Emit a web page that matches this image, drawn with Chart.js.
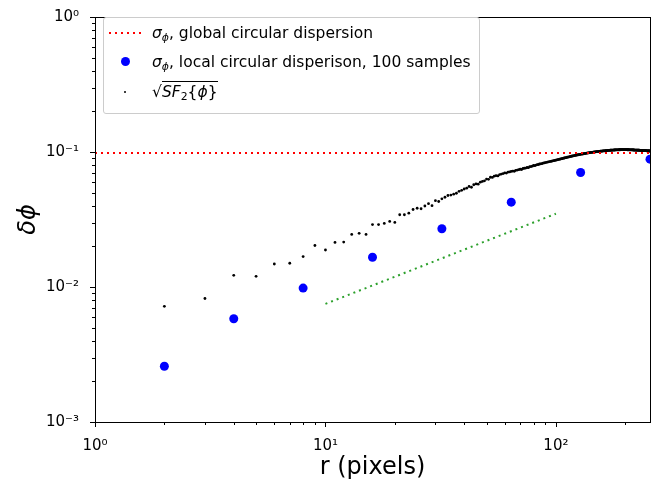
<!DOCTYPE html>
<html>
<head>
<meta charset="utf-8">
<script src="https://cdn.jsdelivr.net/npm/chart.js@4/dist/chart.umd.min.js"></script>
<style>
    body { margin: 0; background: #fff; }
    #wrap { position: relative; width: 670px; height: 485px; }
    #legend {
        position: absolute; left: 103px; top: 17px; width: 375px; height: 95px;
        border: 1px solid #cccccc; border-radius: 3px; background: rgba(255,255,255,0.8);
        font-family: 'DejaVu Sans', sans-serif; font-size: 15.5px; color: #000;
    }
    #legend .row { position: absolute; left: 0; height: 18px; line-height: 18px; white-space: nowrap; }
    #legend .label { position: absolute; left: 48px; top: 0; }
    #legend sub { font-size: 70%; vertical-align: -3px; line-height: 0; }
    #legend .rad { border-top: 1px solid #000; padding-top: 1px; }
    .dotted { position: absolute; left: 5px; top: 8px; width: 32px; height: 2px;
        background: repeating-linear-gradient(to right, #ff0000 0 2px, transparent 2px 6px); }
    .bigdot { position: absolute; left: 17px; top: 4px; width: 9px; height: 9px; border-radius: 50%; background: #0000ff; }
    .smalldot { position: absolute; left: 20px; top: 8px; width: 2px; height: 2px; border-radius: 50%; background: #000; }
</style>
</head>
<body>
<div id="wrap">
    <canvas id="chart" width="670" height="485"></canvas>
    <div id="legend">
        <div class="row" style="top:6px"><span class="dotted"></span>
            <span class="label"><i>σ</i><sub><i>ϕ</i></sub>, global circular dispersion</span></div>
        <div class="row" style="top:35px"><span class="bigdot"></span>
            <span class="label"><i>σ</i><sub><i>ϕ</i></sub>, local circular disperison, 100 samples</span></div>
        <div class="row" style="top:65px"><span class="smalldot"></span>
            <span class="label">√<span class="rad"><i>SF</i><sub>2</sub>{<i>ϕ</i>}</span></span></div>
    </div>
</div>
<script>
// global circular dispersion (horizontal line)
const globalDisp = 0.0985;

// local circular dispersion, 100 samples
const localR = [2, 4, 8, 16, 32, 64, 128, 256];
const localDisp = [0.00259, 0.00582, 0.00982, 0.0166, 0.0270, 0.0425, 0.0705, 0.0885];

// sqrt of the structure function, one value per lag r = 2 .. 256
const sfValues = [
    0.00719, 0.00822, 0.0122, 0.0120, 0.0148, 0.0150, 0.0168, 0.0203, 0.0188, 0.0214,
    0.0215, 0.0245, 0.0250, 0.0245, 0.0290, 0.0290, 0.0296, 0.0306, 0.0301, 0.0343,
    0.0343, 0.0352,
    0.0375, 0.0383, 0.0380, 0.0398, 0.0414, 0.0400, 0.0436, 0.0430, 0.0450, 0.0462,
    0.0476, 0.0480, 0.0487, 0.0495, 0.0511, 0.0520, 0.0532,
    0.0540, 0.0555, 0.0548, 0.0572, 0.0580, 0.0578, 0.0598, 0.0605, 0.0612, 0.0630,
    0.0628, 0.0650, 0.0648, 0.0662, 0.0668, 0.0665, 0.0680, 0.0686, 0.0692, 0.0700,
    0.0698, 0.0710, 0.0712, 0.0718, 0.0722, 0.0720, 0.0732, 0.0735, 0.0740, 0.0745,
    0.0742, 0.0755, 0.0758, 0.0760, 0.0768, 0.0766, 0.0778, 0.0780, 0.0785, 0.0795,
    0.0792, 0.0800, 0.0806, 0.0808, 0.0815, 0.0818, 0.0820, 0.0828, 0.0830, 0.0835,
    0.0838, 0.0842, 0.0845, 0.0850, 0.0852, 0.0855, 0.0860, 0.0862, 0.0866, 0.0870,
    0.0874, 0.0877, 0.0882, 0.0884, 0.0888, 0.0892, 0.0895, 0.0900, 0.0903, 0.0908,
    0.0910, 0.0914, 0.0917, 0.0920, 0.0924, 0.0927, 0.0930, 0.0934, 0.0937, 0.0940,
    0.0943, 0.0946, 0.0948, 0.0951, 0.0954, 0.0956, 0.0959, 0.0961, 0.0964, 0.0966,
    0.0968, 0.0971, 0.0973, 0.0975, 0.0977, 0.0980, 0.0982, 0.0984, 0.0986, 0.0988,
    0.0990, 0.0992, 0.0994, 0.0995, 0.0997, 0.0999, 0.1000, 0.1002, 0.1003, 0.1005,
    0.1006, 0.1008, 0.1009, 0.1010, 0.1012, 0.1013, 0.1014, 0.1015, 0.1016, 0.1018,
    0.1019, 0.1020, 0.1021, 0.1022, 0.1023, 0.1024, 0.1025, 0.1026, 0.1027, 0.1028,
    0.1029, 0.1030, 0.1030, 0.1031, 0.1032, 0.1033, 0.1033, 0.1034, 0.1035, 0.1035,
    0.1036, 0.1036, 0.1037, 0.1037, 0.1038, 0.1038, 0.1038, 0.1039, 0.1039, 0.1039,
    0.1040, 0.1040, 0.1040, 0.1040, 0.1040, 0.1040, 0.1040, 0.1040, 0.1040, 0.1040,
    0.1040, 0.1040, 0.1040, 0.1039, 0.1039, 0.1039, 0.1039, 0.1038, 0.1038, 0.1038,
    0.1037, 0.1037, 0.1037, 0.1036, 0.1036, 0.1036, 0.1035, 0.1035, 0.1034, 0.1034,
    0.1034, 0.1033, 0.1033, 0.1032, 0.1032, 0.1031, 0.1031, 0.1031, 0.1030, 0.1030,
    0.1029, 0.1029, 0.1028, 0.1028, 0.1027, 0.1027, 0.1026, 0.1026, 0.1025, 0.1025,
    0.1024, 0.1024, 0.1023, 0.1023, 0.1022, 0.1022, 0.1021, 0.1021, 0.1020, 0.1020,
    0.1019, 0.1019, 0.1018, 0.1018, 0.1017, 0.1017
];
const sfR = sfValues.map((v, i) => i + 2);

// reference slope line (green dotted)
const slopeR = [10, 100];
const slopeVals = [0.0075, 0.0349];

// axes
const xRange = [1, 256];
const yRange = [0.001, 1];
const xMajor = [1, 10, 100];
const xMajorLabels = ['10⁰', '10¹', '10²'];
const xMinor = [2, 3, 4, 5, 6, 7, 8, 9, 20, 30, 40, 50, 60, 70, 80, 90, 200];
const yMajor = [0.001, 0.01, 0.1, 1];
const yMajorLabels = ['10⁻³', '10⁻²', '10⁻¹', '10⁰'];
const yMinor = [0.002, 0.003, 0.004, 0.005, 0.006, 0.007, 0.008, 0.009,
    0.02, 0.03, 0.04, 0.05, 0.06, 0.07, 0.08, 0.09,
    0.2, 0.3, 0.4, 0.5, 0.6, 0.7, 0.8, 0.9];

const toPoints = (xs, ys) => xs.map((x, i) => ({ x: x, y: ys[i] }));

function setTicks(major, minor) {
    return scale => {
        scale.ticks = major.concat(minor).sort((a, b) => a - b).map(v => ({ value: v }));
    };
}

function labelFor(major, labels) {
    return value => {
        const i = major.findIndex(m => Math.abs(m - value) / m < 1e-6);
        return i >= 0 ? labels[i] : '';
    };
}

// frame + matplotlib-style outward ticks
const framePlugin = {
    id: 'frame',
    afterDraw(chart) {
        const { ctx, chartArea: a, scales: { x, y } } = chart;
        ctx.save();
        ctx.strokeStyle = '#000';
        ctx.lineWidth = 1;
        ctx.beginPath();
        const tick = (vals, len) => {
            vals.forEach(v => {
                const px = Math.round(x.getPixelForValue(v)) + 0.5;
                if (v >= xRange[0] && v <= xRange[1]) {
                    ctx.moveTo(px, a.bottom);
                    ctx.lineTo(px, a.bottom + len);
                }
            });
        };
        tick(xMajor, 5);
        tick(xMinor, 3);
        const ytick = (vals, len) => {
            vals.forEach(v => {
                const py = Math.round(y.getPixelForValue(v)) + 0.5;
                ctx.moveTo(a.left, py);
                ctx.lineTo(a.left - len, py);
            });
        };
        ytick(yMajor, 5);
        ytick(yMinor, 3);
        ctx.stroke();
        ctx.strokeRect(Math.round(a.left) + 0.5, Math.round(a.top) + 0.5,
            Math.round(a.right - a.left), Math.round(a.bottom - a.top));
        ctx.restore();
    }
};

const tickFont = { family: 'DejaVu Sans', size: 15 };

new Chart(document.getElementById('chart'), {
    type: 'scatter',
    data: {
        datasets: [{
            label: 'global circular dispersion',
            data: toPoints(xRange, [globalDisp, globalDisp]),
            showLine: true,
            borderColor: '#ff0000',
            borderWidth: 2,
            borderDash: [2, 4],
            pointRadius: 0,
            clip: 0
        }, {
            label: 'slope',
            data: toPoints(slopeR, slopeVals),
            showLine: true,
            borderColor: '#2ca02c',
            borderWidth: 2,
            borderDash: [2, 4],
            pointRadius: 0,
            clip: 0
        }, {
            label: 'sqrt SF2',
            data: toPoints(sfR, sfValues),
            pointRadius: 1.4,
            pointBorderWidth: 0,
            backgroundColor: '#000000',
            clip: 0
        }, {
            label: 'local circular dispersion, 100 samples',
            data: toPoints(localR, localDisp),
            pointRadius: 4.5,
            pointBorderWidth: 0,
            backgroundColor: '#0000ff',
            clip: 0
        }]
    },
    options: {
        responsive: false,
        animation: false,
        layout: { padding: { top: 11, right: 20, left: 0, bottom: 0 } },
        plugins: {
            legend: { display: false },
            tooltip: { enabled: false }
        },
        scales: {
            x: {
                type: 'logarithmic',
                position: 'bottom',
                min: xRange[0],
                max: xRange[1],
                afterBuildTicks: setTicks(xMajor, xMinor),
                afterFit: scale => { scale.height = 63; },
                grid: { display: false },
                border: { display: false },
                ticks: {
                    autoSkip: false,
                    maxRotation: 0,
                    padding: 7,
                    color: '#000',
                    font: tickFont,
                    callback: labelFor(xMajor, xMajorLabels)
                },
                title: {
                    display: true,
                    text: 'r (pixels)',
                    color: '#000',
                    font: { family: 'DejaVu Sans', size: 24 },
                    padding: { top: 0, bottom: 3 }
                }
            },
            y: {
                type: 'logarithmic',
                min: yRange[0],
                max: yRange[1],
                afterBuildTicks: setTicks(yMajor, yMinor),
                afterFit: scale => { scale.width = 95; },
                grid: { display: false },
                border: { display: false },
                ticks: {
                    autoSkip: false,
                    padding: 8,
                    color: '#000',
                    font: tickFont,
                    callback: labelFor(yMajor, yMajorLabels)
                },
                title: {
                    display: true,
                    text: 'δϕ',
                    color: '#000',
                    font: { family: 'DejaVu Sans', size: 24, style: 'italic' },
                    padding: { top: 14, bottom: 0 }
                }
            }
        }
    },
    plugins: [framePlugin]
});
</script>
</body>
</html>
